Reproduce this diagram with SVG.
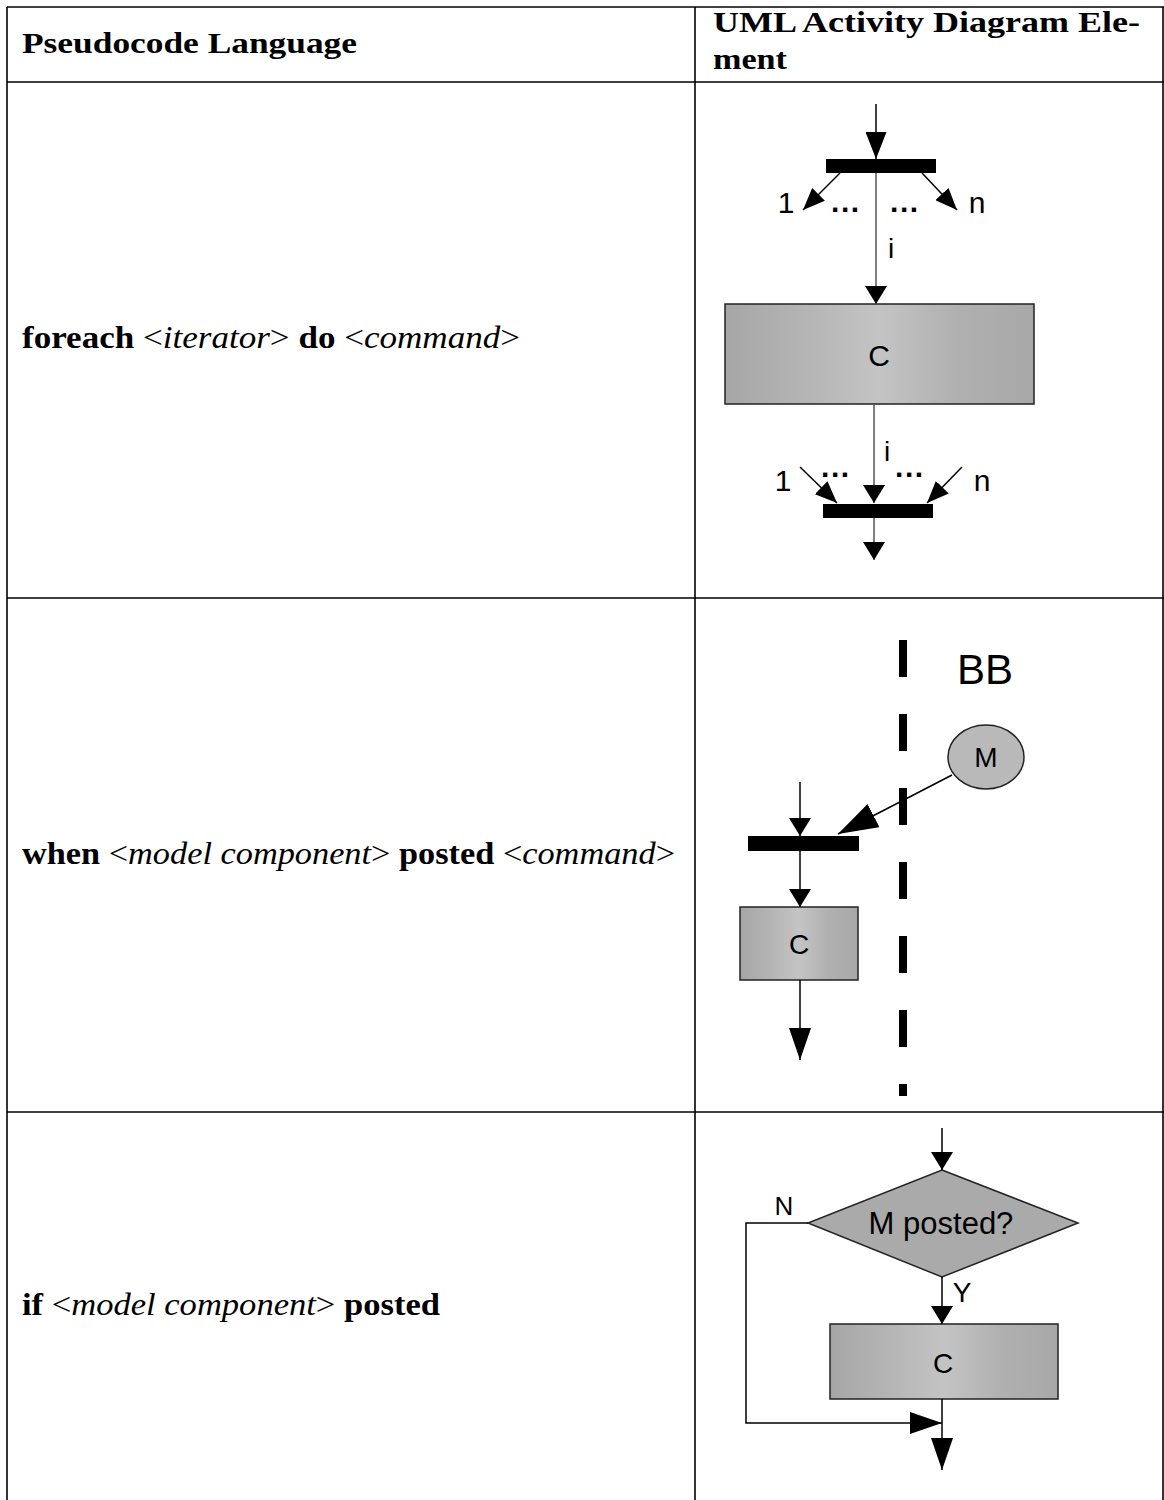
<svg xmlns="http://www.w3.org/2000/svg" width="1164" height="1500" viewBox="0 0 1164 1500">
  <style>
    .grid { stroke: #000; stroke-width: 1.6; fill: none; }
    .hdr { font-family: "Liberation Serif", "DejaVu Serif", serif; font-size: 30px; font-weight: bold; fill: #000; }
    .row { font-family: "Liberation Serif", "DejaVu Serif", serif; font-size: 31px; fill: #000; }
    .kw { font-weight: bold; }
    .it { font-style: italic; }
    .lbl { font-family: "Liberation Sans", Arial, sans-serif; fill: #000; text-anchor: middle; }
    .dots { font-family: "Liberation Sans", Arial, sans-serif; font-weight: bold; font-size: 30px; letter-spacing: 1.6px; fill: #000; }
    .flow { stroke: #000; stroke-width: 1.5; fill: none; }
    .flow-g { stroke: #555; stroke-width: 1.5; fill: none; }
    .bar { fill: #000; }
    .act { fill: url(#shade); stroke: #222; stroke-width: 1.5; }
    .swim { stroke: #000; stroke-width: 8; stroke-dasharray: 37 37; fill: none; }
  </style>
  <defs>
    <linearGradient id="shade" x1="0" y1="0" x2="1" y2="0">
      <stop offset="0" stop-color="#a6a6a6"/>
      <stop offset="0.25" stop-color="#b4b4b4"/>
      <stop offset="0.5" stop-color="#c4c4c4"/>
      <stop offset="0.75" stop-color="#b0b0b0"/>
      <stop offset="1" stop-color="#a8a8a8"/>
    </linearGradient>
    <marker id="ah-fe" markerUnits="userSpaceOnUse" markerWidth="27" markerHeight="21" refX="27" refY="10.5" orient="auto">
      <path d="M0,0 L27,10.5 L0,21 Z" fill="#000"/>
    </marker>
    <marker id="ah-diag" markerUnits="userSpaceOnUse" markerWidth="22" markerHeight="18" refX="22" refY="9" orient="auto">
      <path d="M0,0 L22,9 L0,18 Z" fill="#000"/>
    </marker>
    <marker id="ah-s" markerUnits="userSpaceOnUse" markerWidth="18" markerHeight="22" refX="18" refY="11" orient="auto">
      <path d="M0,0 L18,11 L0,22 Z" fill="#000"/>
    </marker>
    <marker id="ah-l" markerUnits="userSpaceOnUse" markerWidth="32" markerHeight="22" refX="32" refY="11" orient="auto">
      <path d="M0,0 L32,11 L0,22 Z" fill="#000"/>
    </marker>
    <marker id="ah-big" markerUnits="userSpaceOnUse" markerWidth="40" markerHeight="26" refX="40" refY="13" orient="auto">
      <path d="M0,0 L40,13 L0,26 Z" fill="#000"/>
    </marker>
  </defs>

  <rect width="1164" height="1500" fill="#fff"/>

  <!-- table frame -->
  <g id="table">
    <line class="grid" x1="7" y1="7" x2="1164" y2="7"/>
    <line class="grid" x1="7" y1="82" x2="1164" y2="82"/>
    <line class="grid" x1="7" y1="598" x2="1164" y2="598"/>
    <line class="grid" x1="7" y1="1112" x2="1164" y2="1112"/>
    <line class="grid" x1="7" y1="7" x2="7" y2="1500"/>
    <line class="grid" x1="695" y1="7" x2="695" y2="1500"/>
    <line class="grid" x1="1163" y1="7" x2="1163" y2="1500"/>
  </g>

  <!-- header and pseudocode column -->
  <g id="header">
    <text class="hdr" x="22" y="53" textLength="335" lengthAdjust="spacingAndGlyphs">Pseudocode Language</text>
    <text class="hdr" x="713" y="32" textLength="427" lengthAdjust="spacingAndGlyphs">UML Activity Diagram Ele-</text>
    <text class="hdr" x="713" y="69" textLength="74" lengthAdjust="spacingAndGlyphs">ment</text>
  </g>
  <g id="pseudo-foreach">
    <text class="row" x="22" y="348" textLength="498" lengthAdjust="spacingAndGlyphs"><tspan class="kw">foreach </tspan><tspan>&lt;</tspan><tspan class="it">iterator</tspan><tspan>&gt; </tspan><tspan class="kw">do </tspan><tspan>&lt;</tspan><tspan class="it">command</tspan><tspan>&gt;</tspan></text>
  </g>
  <g id="pseudo-when">
    <text class="row" x="22" y="864" textLength="653" lengthAdjust="spacingAndGlyphs"><tspan class="kw">when </tspan><tspan>&lt;</tspan><tspan class="it">model component</tspan><tspan>&gt; </tspan><tspan class="kw">posted </tspan><tspan>&lt;</tspan><tspan class="it">command</tspan><tspan>&gt;</tspan></text>
  </g>
  <g id="pseudo-if">
    <text class="row" x="22" y="1315" textLength="418" lengthAdjust="spacingAndGlyphs"><tspan class="kw">if </tspan><tspan>&lt;</tspan><tspan class="it">model component</tspan><tspan>&gt; </tspan><tspan class="kw">posted</tspan></text>
  </g>

  <!-- foreach: fork, action, join -->
  <g id="fe-fork">
    <rect class="bar" x="826" y="159" width="110" height="14"/>
  </g>
  <g id="fe-action">
    <rect class="act" x="725" y="304" width="309" height="100"/>
    <text class="lbl" x="879" y="366" font-size="30">C</text>
  </g>
  <g id="fe-join">
    <rect class="bar" x="823" y="504" width="110" height="14"/>
  </g>

  <!-- when: swimlane, model component, sync bar, action -->
  <g id="bb-lane">
    <line class="swim" x1="903" y1="640" x2="903" y2="1096"/>
    <text class="lbl" x="985" y="684" font-size="42">BB</text>
  </g>
  <g id="bb-model">
    <ellipse cx="986" cy="757" rx="38" ry="32" fill="#b9b9b9" stroke="#222" stroke-width="1.5"/>
    <text class="lbl" x="986" y="767" font-size="28">M</text>
  </g>
  <g id="when-sync">
    <rect class="bar" x="748" y="836" width="111" height="15"/>
  </g>
  <g id="when-action">
    <rect class="act" x="740" y="907" width="118" height="73"/>
    <text class="lbl" x="799" y="954" font-size="28">C</text>
  </g>

  <!-- if: decision and action -->
  <g id="if-decision">
    <polygon points="942,1170 1078,1223 942,1277 808,1223" fill="#aaaaaa" stroke="#222" stroke-width="1.5"/>
    <text class="lbl" x="941" y="1234" font-size="31">M posted?</text>
  </g>
  <g id="if-action">
    <rect class="act" x="830" y="1324" width="228" height="75"/>
    <text class="lbl" x="943" y="1373" font-size="28">C</text>
  </g>

  <!-- connectors -->
  <g id="connectors">
    <!-- foreach -->
    <line class="flow" x1="876" y1="104" x2="876" y2="159" marker-end="url(#ah-fe)"/>
    <line class="flow" x1="840" y1="173" x2="803" y2="210" marker-end="url(#ah-diag)"/>
    <line class="flow" x1="922" y1="173" x2="957" y2="210" marker-end="url(#ah-diag)"/>
    <line class="flow-g" x1="876" y1="173" x2="876" y2="304" marker-end="url(#ah-s)"/>
    <line class="flow-g" x1="874" y1="404" x2="874" y2="503" marker-end="url(#ah-s)"/>
    <line class="flow" x1="800" y1="467" x2="837" y2="503" marker-end="url(#ah-diag)"/>
    <line class="flow" x1="962" y1="467" x2="927" y2="503" marker-end="url(#ah-diag)"/>
    <line class="flow-g" x1="874" y1="518" x2="874" y2="560" marker-end="url(#ah-s)"/>
    <text class="lbl" x="786" y="213" font-size="30">1</text>
    <text class="lbl" x="977" y="213" font-size="30">n</text>
    <text class="dots" x="831" y="212">...</text>
    <text class="dots" x="890" y="212">...</text>
    <text class="lbl" x="891" y="258" font-size="28">i</text>
    <text class="lbl" x="887" y="461" font-size="28">i</text>
    <text class="lbl" x="783" y="491" font-size="30">1</text>
    <text class="lbl" x="982" y="491" font-size="30">n</text>
    <text class="dots" x="821" y="477">...</text>
    <text class="dots" x="895" y="477">...</text>

    <!-- when -->
    <line class="flow" x1="952" y1="775" x2="838" y2="834" marker-end="url(#ah-big)"/>
    <line class="flow" x1="800" y1="782" x2="800" y2="836" marker-end="url(#ah-s)"/>
    <line class="flow" x1="800" y1="851" x2="800" y2="907" marker-end="url(#ah-s)"/>
    <line class="flow" x1="800" y1="980" x2="800" y2="1060" marker-end="url(#ah-l)"/>

    <!-- if -->
    <line class="flow" x1="942" y1="1128" x2="942" y2="1170" marker-end="url(#ah-s)"/>
    <polyline class="flow" points="808,1223 746,1223 746,1423 942,1423" marker-end="url(#ah-l)"/>
    <line class="flow" x1="942" y1="1277" x2="942" y2="1324" marker-end="url(#ah-s)"/>
    <line class="flow" x1="942" y1="1399" x2="942" y2="1470" marker-end="url(#ah-l)"/>
    <text class="lbl" x="784" y="1215" font-size="26">N</text>
    <text class="lbl" x="962" y="1302" font-size="28">Y</text>
  </g>
</svg>
